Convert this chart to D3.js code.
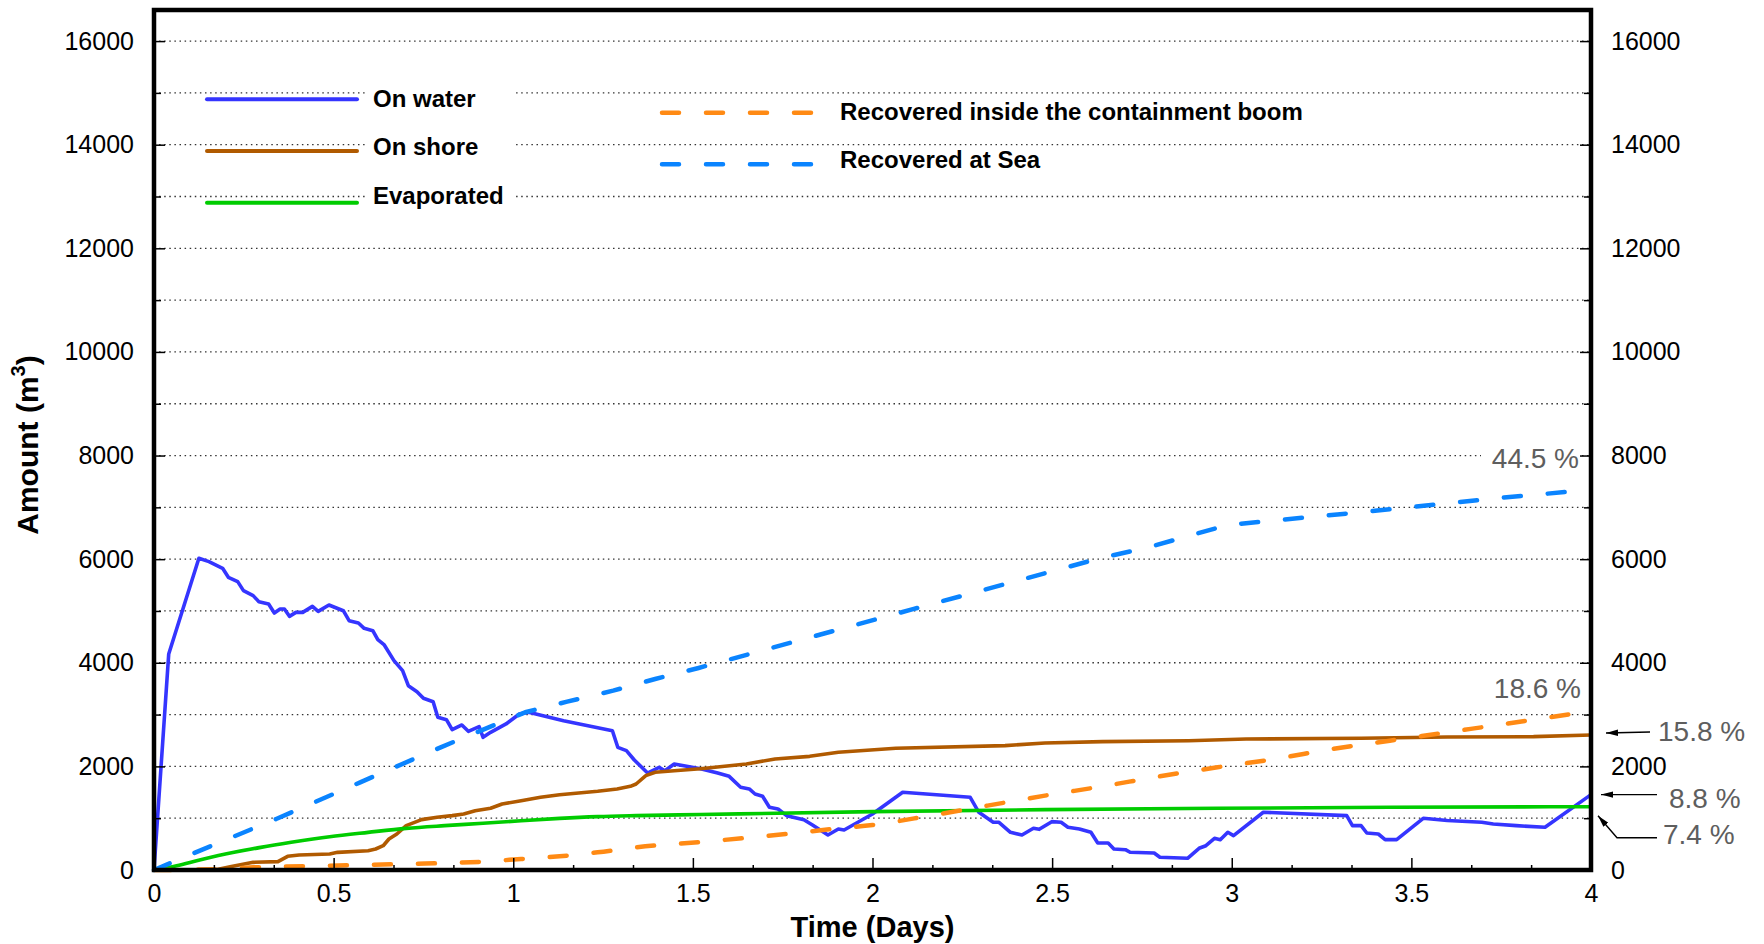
<!DOCTYPE html>
<html>
<head>
<meta charset="utf-8">
<script src="https://cdn.jsdelivr.net/npm/d3@7"></script>
<style>
  body { margin: 0; background: #fff; }
  svg { display: block; font-family: "Liberation Sans", Arial, Helvetica, sans-serif; }
</style>
</head>
<body>
<script>
// [time in days, amount in m3]
const onWater = [[0,0],[0.041,4170],[0.125,6017],[0.153,5952],[0.191,5824],[0.207,5650],[0.233,5566],[0.249,5392],[0.276,5296],[0.292,5180],[0.319,5135],[0.335,4961],[0.351,5038],[0.363,5038],[0.377,4896],[0.395,4973],[0.414,4973],[0.441,5089],[0.457,4992],[0.487,5116],[0.527,5005],[0.543,4812],[0.569,4768],[0.585,4665],[0.609,4620],[0.623,4446],[0.641,4344],[0.668,4041],[0.692,3848],[0.708,3558],[0.732,3442],[0.75,3314],[0.777,3249],[0.79,2947],[0.814,2901],[0.83,2708],[0.857,2799],[0.875,2677],[0.905,2766],[0.916,2562],[0.937,2658],[0.98,2819],[1.017,3012],[1.043,3044],[1.14,2880],[1.276,2689],[1.291,2368],[1.315,2303],[1.337,2123],[1.374,1872],[1.406,1981],[1.422,1916],[1.448,2045],[1.521,1956],[1.569,1873],[1.601,1808],[1.633,1596],[1.657,1564],[1.673,1467],[1.694,1423],[1.713,1210],[1.737,1178],[1.761,1049],[1.809,971],[1.833,869],[1.876,676],[1.905,792],[1.921,772],[2.0,1081],[2.084,1500],[2.272,1403],[2.296,1114],[2.336,921],[2.352,921],[2.384,728],[2.416,676],[2.448,805],[2.464,785],[2.499,933],[2.525,921],[2.544,824],[2.576,792],[2.608,728],[2.627,521],[2.656,521],[2.672,405],[2.704,392],[2.717,342],[2.784,328],[2.8,245],[2.877,226],[2.909,419],[2.928,469],[2.952,612],[2.968,585],[2.989,728],[3.005,663],[3.088,1114],[3.32,1049],[3.336,856],[3.36,856],[3.376,714],[3.408,695],[3.427,586],[3.459,586],[3.533,998],[3.6,956],[3.696,921],[3.728,888],[3.792,856],[3.872,824],[4.0,1455]]
const onShore = [[0,0],[0.169,0],[0.212,64],[0.276,148],[0.345,161],[0.372,264],[0.404,290],[0.489,309],[0.511,341],[0.596,373],[0.617,405],[0.638,469],[0.654,598],[0.676,695],[0.702,856],[0.745,972],[0.788,1017],[0.83,1049],[0.862,1081],[0.894,1145],[0.937,1191],[0.969,1274],[1.022,1338],[1.076,1403],[1.129,1454],[1.182,1486],[1.235,1519],[1.289,1564],[1.326,1615],[1.342,1660],[1.369,1821],[1.395,1886],[1.448,1917],[1.521,1955],[1.649,2046],[1.729,2143],[1.825,2194],[1.905,2272],[2.065,2349],[2.369,2400],[2.48,2452],[2.64,2477],[2.88,2496],[3.04,2529],[3.36,2542],[3.6,2568],[3.84,2574],[4.0,2606]]
const evaporated = [[0,0],[0.063,84],[0.127,193],[0.223,341],[0.297,437],[0.382,534],[0.489,643],[0.596,727],[0.702,804],[0.809,856],[0.916,901],[1.022,952],[1.129,997],[1.235,1030],[1.342,1049],[1.521,1070],[2.0,1126],[2.48,1165],[2.96,1191],[3.44,1210],[4.0,1222]]
const recoveredBoom = [[0,0],[0.17,15],[0.276,51],[0.489,84],[0.702,116],[0.916,161],[1.022,212],[1.129,264],[1.235,341],[1.342,437],[1.521,540],[1.761,695],[1.889,792],[2.0,869],[2.16,1049],[2.32,1242],[2.48,1435],[2.64,1615],[2.8,1808],[2.96,1982],[3.12,2143],[3.28,2336],[3.44,2496],[3.6,2658],[3.76,2819],[4.0,3067]]
const recoveredSea = [[0,0],[0.116,341],[0.34,985],[0.574,1692],[0.798,2368],[1.033,3044],[1.15,3249],[1.278,3462],[1.395,3687],[1.516,3900],[2.115,5039],[2.626,6004],[2.774,6242],[2.867,6423],[2.988,6660],[3.113,6743],[3.239,6828],[3.359,6905],[3.485,6994],[3.61,7085],[3.735,7176],[3.861,7253],[4.0,7342]]

const xMajorTicks = [0, 0.5, 1, 1.5, 2, 2.5, 3, 3.5, 4]
const yMajorTicks = [0, 2000, 4000, 6000, 8000, 10000, 12000, 14000, 16000]
const percentLabels = ['44.5 %', '18.6 %', '15.8 %', '8.8 %', '7.4 %']

const config = {
  width: 1764,
  height: 944,
  left: 154, right: 1591, top: 10, bottom: 870,
  font: 25,
  gray: '#5e5e5e'
}

const x = d3.scaleLinear().domain([0, 4]).range([config.left, config.right])
const y = d3.scaleLinear().domain([0, 16600]).range([config.bottom, config.top])

const series = [
  { name: 'On water', data: onWater, color: '#3535ff', dash: null, curve: d3.curveLinear },
  { name: 'On shore', data: onShore, color: '#b05a00', dash: null, curve: d3.curveLinear },
  { name: 'Evaporated', data: evaporated, color: '#00cc00', dash: null, curve: d3.curveMonotoneX },
  { name: 'Recovered inside the containment boom', data: recoveredBoom, color: '#ff8a14', dash: '17,27', curve: d3.curveMonotoneX },
  { name: 'Recovered at Sea', data: recoveredSea, color: '#0a84ff', dash: '17,27', curve: d3.curveLinear }
]

const svg = d3.select('body').append('svg')
  .attr('width', config.width)
  .attr('height', config.height)

// dotted grid every 1000
svg.append('g').selectAll('line')
  .data(d3.range(1000, 16001, 1000)).enter().append('line')
  .attr('x1', config.left).attr('x2', config.right)
  .attr('y1', d => y(d)).attr('y2', d => y(d))
  .attr('stroke', '#333').attr('stroke-width', 1.3)
  .attr('stroke-dasharray', '1.5,3.6')

// white patch behind the left legend texts and the 44.5 % label
svg.append('rect').attr('x', 366).attr('y', 78).attr('width', 148).attr('height', 134).attr('fill', '#fff')
svg.append('rect').attr('x', 1481).attr('y', 440).attr('width', 100).attr('height', 36).attr('fill', '#fff')

// series
series.forEach(s => {
  const line = d3.line().x(d => x(d[0])).y(d => y(d[1])).curve(s.curve)
  svg.append('path')
    .datum(s.data)
    .attr('d', line)
    .attr('fill', 'none')
    .attr('stroke', s.color)
    .attr('stroke-width', s.dash ? 4.5 : 3.6)
    .attr('stroke-linejoin', 'round')
    .attr('stroke-linecap', s.dash ? 'round' : 'butt')
    .attr('stroke-dasharray', s.dash)
})

// axes
const styleAxis = g => {
  g.select('.domain').remove()
  g.selectAll('.tick line').attr('stroke', '#000').attr('stroke-width', 1.5)
  g.selectAll('.tick text').attr('font-size', config.font).attr('fill', '#000')
}
const yMinor = d3.range(1000, 16001, 2000)
const xMinor = d3.range(0, 25).map(i => i / 6).filter(d => Math.abs(d * 2 - Math.round(d * 2)) > 1e-6)

svg.append('g').attr('transform', `translate(${config.left},0)`)
  .call(d3.axisLeft(y).tickValues(yMajorTicks).tickFormat(d3.format('d')).tickSize(-11).tickPadding(20))
  .call(styleAxis)
svg.append('g').attr('transform', `translate(${config.left},0)`)
  .call(d3.axisLeft(y).tickValues(yMinor).tickFormat('').tickSize(-7))
  .call(styleAxis)
svg.append('g').attr('transform', `translate(${config.right},0)`)
  .call(d3.axisRight(y).tickValues(yMajorTicks).tickFormat(d3.format('d')).tickSize(-11).tickPadding(20))
  .call(styleAxis)
svg.append('g').attr('transform', `translate(${config.right},0)`)
  .call(d3.axisRight(y).tickValues(yMinor).tickFormat('').tickSize(-7))
  .call(styleAxis)
svg.append('g').attr('transform', `translate(0,${config.bottom})`)
  .call(d3.axisBottom(x).tickValues(xMajorTicks).tickFormat(d3.format('')).tickSize(-12).tickPadding(14))
  .call(styleAxis)
svg.append('g').attr('transform', `translate(0,${config.bottom})`)
  .call(d3.axisBottom(x).tickValues(xMinor).tickFormat('').tickSize(-5))
  .call(styleAxis)

// frame
svg.append('rect')
  .attr('x', config.left).attr('y', config.top)
  .attr('width', config.right - config.left).attr('height', config.bottom - config.top)
  .attr('fill', 'none').attr('stroke', '#000').attr('stroke-width', 4.5)

// axis titles
svg.append('text')
  .attr('x', (config.left + config.right) / 2).attr('y', 937)
  .attr('text-anchor', 'middle').attr('font-size', 29).attr('font-weight', 'bold')
  .text('Time (Days)')
const yTitle = svg.append('text')
  .attr('transform', `translate(38,${(config.top + config.bottom) / 2 + 5}) rotate(-90)`)
  .attr('text-anchor', 'middle').attr('font-size', 30).attr('font-weight', 'bold')
yTitle.append('tspan').text('Amount (m')
yTitle.append('tspan').attr('font-size', 20).attr('dy', -13).text('3')
yTitle.append('tspan').attr('dy', 13).text(')')

// legends (text rows sit a little tighter than the sample lines)
const legendLeft = series.slice(0, 3), legendRight = series.slice(3)
legendLeft.forEach((s, i) => {
  const ly = 99.3 + i * 51.7, ty = 98.7 + i * 48.2
  svg.append('line').attr('x1', 207).attr('x2', 357).attr('y1', ly).attr('y2', ly)
    .attr('stroke', s.color).attr('stroke-width', 4).attr('stroke-linecap', 'round')
  svg.append('text').attr('x', 373).attr('y', ty).attr('dy', '0.35em')
    .attr('font-size', 24).attr('font-weight', 'bold').text(s.name)
})
legendRight.forEach((s, i) => {
  const ly = 112.7 + i * 51.6, ty = 111.7 + i * 47.5
  svg.append('line').attr('x1', 662).attr('x2', 811).attr('y1', ly).attr('y2', ly)
    .attr('stroke', s.color).attr('stroke-width', 4.5).attr('stroke-linecap', 'round')
    .attr('stroke-dasharray', s.dash)
  svg.append('text').attr('x', 840).attr('y', ty).attr('dy', '0.35em')
    .attr('font-size', 24).attr('font-weight', 'bold').text(s.name)
})

// percentage annotations
svg.append('defs').append('marker')
  .attr('id', 'arrow').attr('viewBox', '0 0 12 8')
  .attr('refX', 12).attr('refY', 4)
  .attr('markerUnits', 'userSpaceOnUse').attr('markerWidth', 12).attr('markerHeight', 8)
  .attr('orient', 'auto')
  .append('path').attr('d', 'M0,0.8L12,4L0,7.2Z').attr('fill', '#000')

const last = d => d[d.length - 1][1]
const annot = (txt, tx, ty, anchor) => svg.append('text')
  .attr('x', tx).attr('y', ty).attr('dy', '0.36em')
  .attr('text-anchor', anchor).attr('font-size', 28).attr('fill', config.gray).text(txt)

annot(percentLabels[0], 1579, y(last(recoveredSea)) - 32, 'end')
annot(percentLabels[1], 1581, y(last(recoveredBoom)) - 23, 'end')
annot(percentLabels[2], 1658, y(last(onShore)) - 4, 'start')
annot(percentLabels[3], 1669, y(last(onWater)) + 3, 'start')
annot(percentLabels[4], 1663, y(last(evaporated)) + 27, 'start')

const arrow = pts => svg.append('path')
  .attr('d', d3.line()(pts))
  .attr('fill', 'none').attr('stroke', '#000').attr('stroke-width', 1.4)
  .attr('marker-end', 'url(#arrow)')
arrow([[1650, y(last(onShore)) - 3], [1606, y(last(onShore)) - 2]])
arrow([[1657, y(last(onWater))], [1601, y(last(onWater))]])
arrow([[1657, y(last(evaporated)) + 31], [1617, y(last(evaporated)) + 31], [1598, y(last(evaporated)) + 9]])
</script>
</body>
</html>
